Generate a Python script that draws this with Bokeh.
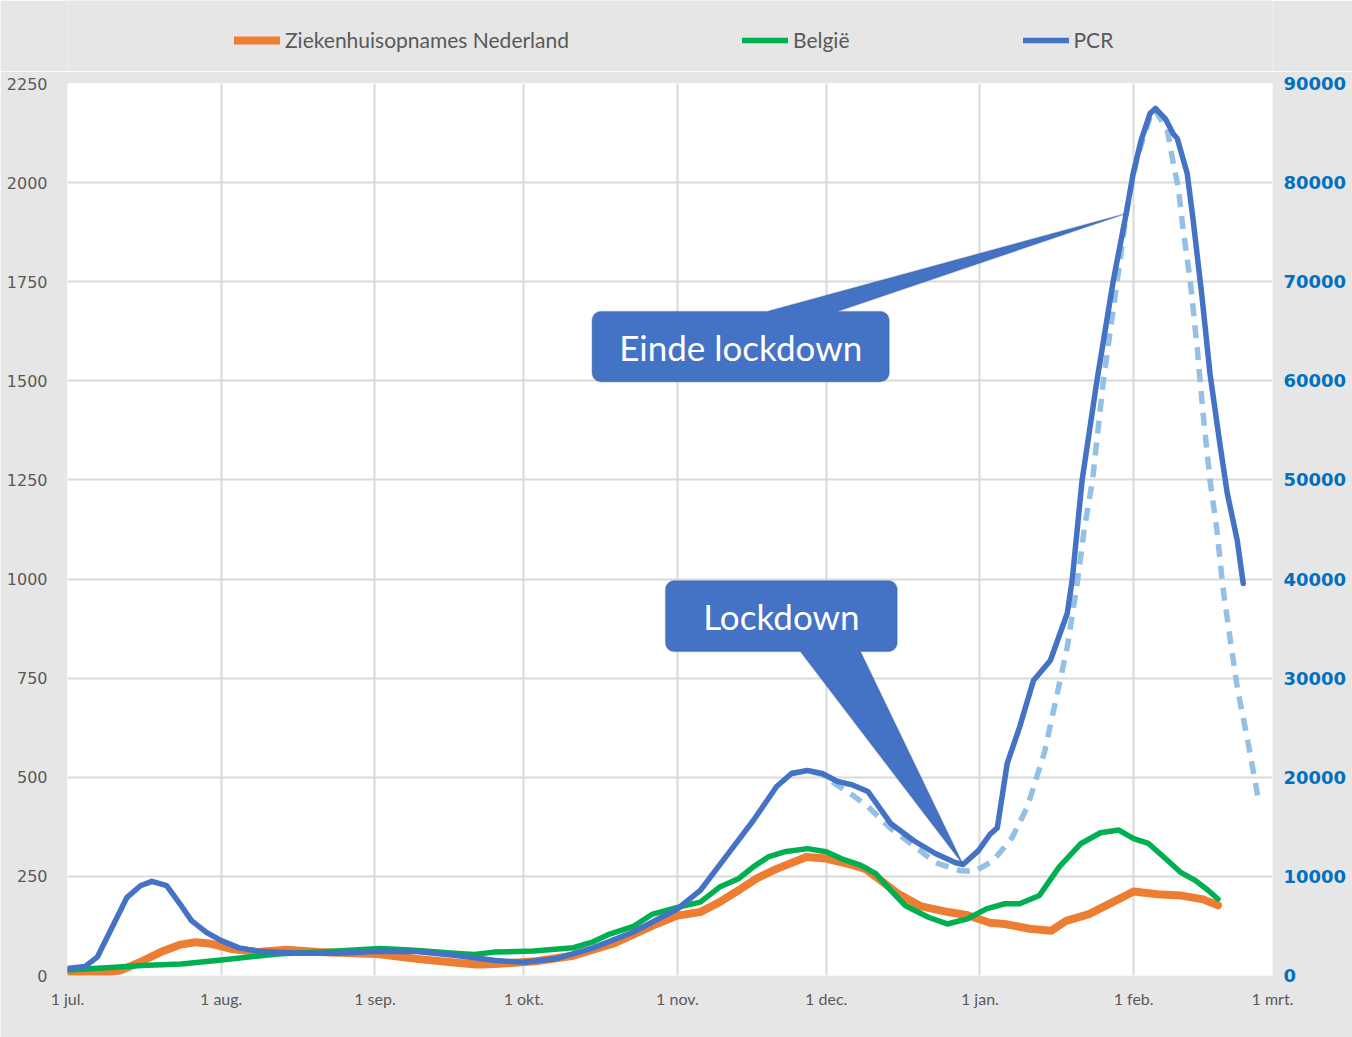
import numpy as np
from bokeh.plotting import figure
from bokeh.layouts import column
from bokeh.models import (Range1d, LinearAxis, FixedTicker, Legend, LegendItem,
                          PolyAnnotation, Label)
from bokeh.embed import file_html
from bokeh.resources import INLINE

# ---------------- data ----------------
# x = days since 1 jul.
month_days = [0, 31, 62, 92, 123, 153, 184, 215, 243]
month_labels = ["1 jul.", "1 aug.", "1 sep.", "1 okt.", "1 nov.",
                "1 dec.", "1 jan.", "1 feb.", "1 mrt."]
left_ticks = [0, 250, 500, 750, 1000, 1250, 1500, 1750, 2000, 2250]
right_ticks = [0, 10000, 20000, 30000, 40000, 50000, 60000, 70000, 80000, 90000]
series_names = ["Ziekenhuisopnames Nederland", "België", "PCR"]

nl_day = [0, 7, 10.7, 14.7, 18.8, 22.8, 25.8, 29, 33, 38.5, 44, 50.6, 62.5, 70.4,
          78.4, 82.5, 86.3, 94.4, 102, 110, 118, 123, 127.6, 131.5, 135.3, 139,
          143, 149, 153, 158, 161, 164.5, 167.5, 172, 177.6, 181.5, 186, 189,
          194, 198.4, 201.4, 206, 210.5, 215, 219.8, 224.4, 229, 232]
nl_val = [5, 5, 13, 34, 59, 78, 84, 80, 67, 59, 65, 59, 54, 42,
          32, 28, 29, 36, 50, 80, 126, 151, 160, 185, 215, 245,
          269, 299, 295, 280, 268, 235, 206, 175, 160, 152, 133, 130,
          118, 113, 138, 155, 183, 212, 205, 202, 192, 177]

be_day = [0, 7, 15, 23, 31, 38.5, 43, 51, 63, 70, 78, 82, 86, 94, 102, 106, 109,
          114, 118, 123, 127.6, 131.5, 135.3, 138.3, 141.3, 144.6, 149.2, 153,
          156, 160, 163, 166, 169, 173.6, 177.4, 181.5, 185.3, 189, 192, 196,
          200, 204.4, 208.3, 212, 215, 218, 221.4, 224.4, 227.4, 230, 232]
be_val = [14, 19, 25, 29, 39, 49, 55, 59, 68, 64, 56, 53, 59, 62, 70, 85, 103,
          123, 155, 172, 185, 223, 244, 274, 299, 312, 320, 312,
          295, 278, 257, 215, 176, 147, 130, 143, 168, 181, 181, 202,
          274, 333, 360, 367, 345, 333, 295, 261, 240, 215, 193]

pcr_day = [0, 3.5, 6, 9, 12, 14.7, 17, 20, 22.7, 25, 28, 31, 34.6, 38.5, 46.5,
           54.5, 62.5, 70.4, 78.4, 86.3, 92, 98.4, 106, 114, 123, 127.6, 133.7,
           138.3, 143, 146, 149.2, 152.2, 155.3, 158.3, 161.4, 166, 170.6, 175,
           179, 180.6, 183.7, 186, 187.5, 189.5, 192, 194.8, 198.2, 201.6,
           202.6, 204.6, 207.6, 210.9, 213.5, 214.9, 216.5, 218.3, 219.4,
           221.4, 223, 223.8, 225.8, 227, 228.8, 230.4, 232.5, 233.9, 235.9,
           237.1]
pcr_val = [700, 900, 1850, 4870, 7890, 9060, 9500, 9060, 7210, 5540, 4360, 3520,
           2790, 2450, 2250, 2250, 2450, 2420, 2010, 1510, 1340, 1680, 2790,
           4360, 6710, 8580, 12600, 15640, 19070, 20380, 20680, 20380, 19570,
           19230, 18570, 15340, 13620, 12310, 11400, 11200, 12600, 14230, 14900,
           21390, 25060, 29760, 31780, 36520, 39860, 49950, 60030, 70130, 76890,
           80920, 84250, 86970, 87480, 86440, 84900, 84450, 80920, 76210, 68410,
           60700, 53270, 48600, 43880, 39550]

pcr2_day = [146, 149.2, 152.2, 155.3, 158.3, 161.4, 166, 170.6, 175, 179.8,
            182.9, 186.7, 190.5, 193.6, 197, 199.6, 201.6, 203.6, 205, 206.7,
            208.9, 211.7, 213.7, 215.7, 218.3, 219.4, 221.8, 223, 224, 225,
            226.4, 227.8, 229, 230.4, 231.8, 233, 234.5, 236, 238, 240]
pcr2_val = [20380, 20680, 20300, 19170, 18200, 17050, 14830, 13120, 11400, 10600,
            10490, 11600, 13920, 17050, 22500, 28450, 33100, 39500, 44900, 49950,
            60030, 70130, 77490, 82540, 86570, 87280, 85260, 81930, 79510, 75170,
            70130, 63370, 56710, 49950, 44900, 39150, 33800, 28760, 23710, 18160]

# ---------------- styles ----------------
W, H = 1352, 1037
LEG_H = 71
ML, MR, MT, MB = 67, 80, 12, 62
X_END, Y_END, Y2_END = 243, 2250, 90000
px_day = (W - ML - MR) / X_END
px_unit = (H - LEG_H - MT - MB) / Y_END
ratio = Y2_END / Y_END

BG = "#e7e6e6"
TXT = "#595959"
C_NL, C_BE, C_PCR, C_PCR2 = "#ed7d31", "#00b050", "#4472c4", "#93c0e4"
style_nl = dict(line_color=C_NL, line_width=8, line_cap="round", line_join="round")
style_be = dict(line_color=C_BE, line_width=5.5, line_cap="round", line_join="round")
style_pcr = dict(line_color=C_PCR, line_width=5.5, line_cap="round", line_join="round")

# ---------------- main chart ----------------
p = figure(width=W, height=H - LEG_H, output_backend="svg", toolbar_location=None,
           x_range=Range1d(0, X_END), y_range=Range1d(0, Y_END),
           min_border_left=ML, min_border_right=MR, min_border_top=MT,
           min_border_bottom=MB, background_fill_color="white",
           border_fill_color=BG, outline_line_color=None)
p.extra_y_ranges = {"pcr": Range1d(0, Y2_END)}

p.xaxis.ticker = FixedTicker(ticks=month_days)
p.xaxis.major_label_overrides = {d: l for d, l in zip(month_days, month_labels)}
p.yaxis.ticker = FixedTicker(ticks=left_ticks)
for ax in (p.xaxis, p.yaxis):
    ax.axis_line_color = None
    ax.major_tick_line_color = None
    ax.minor_tick_line_color = None
    ax.major_label_text_color = TXT
p.xaxis.major_label_text_font = "Lato"
p.xaxis.major_label_text_font_size = "16px"
p.xaxis.major_label_standoff = 7
p.yaxis.major_label_text_font = "DejaVu Sans"
p.yaxis.major_label_text_font_size = "16px"
p.yaxis.major_label_standoff = 14

rax = LinearAxis(y_range_name="pcr", ticker=FixedTicker(ticks=right_ticks))
rax.axis_line_color = None
rax.major_tick_line_color = None
rax.minor_tick_line_color = None
rax.major_label_text_color = "#0070c0"
rax.major_label_text_font = "DejaVu Sans"
rax.major_label_text_font_style = "bold"
rax.major_label_text_font_size = "18px"
rax.major_label_standoff = 5
p.add_layout(rax, "right")

p.xgrid.ticker = FixedTicker(ticks=month_days)
p.ygrid.ticker = FixedTicker(ticks=left_ticks)
for g in (p.xgrid, p.ygrid):
    g.grid_line_color = "#d9d9d9"
    g.grid_line_width = 2

p.line(nl_day, nl_val, **style_nl)
p.line(be_day, be_val, **style_be)
p.line(pcr2_day, pcr2_val, y_range_name="pcr", line_color=C_PCR2,
       line_width=5.5, line_dash="13 9", line_join="round")
p.line(pcr_day, pcr_val, y_range_name="pcr", **style_pcr)


# ---------------- callouts ----------------
def callout_shape(x0, x1, y0, y1, base_a, base_b, tip, side, r_px=9):
    rx, ry = r_px / px_day, r_px / px_unit
    xs, ys = [], []

    def arc(cx, cy, a0, a1):
        for a in np.linspace(np.radians(a0), np.radians(a1), 7):
            xs.append(cx + rx * np.cos(a))
            ys.append(cy + ry * np.sin(a))

    arc(x0 + rx, y1 - ry, 180, 90)
    if side == "top":
        xs.extend([base_a, tip[0], base_b]); ys.extend([y1, tip[1], y1])
    arc(x1 - rx, y1 - ry, 90, 0)
    arc(x1 - rx, y0 + ry, 0, -90)
    if side == "bottom":
        xs.extend([base_b, tip[0], base_a]); ys.extend([y0, tip[1], y0])
    arc(x0 + rx, y0 + ry, -90, -180)
    return xs, ys


def add_callout(text, box, base, tip, side):
    xs, ys = callout_shape(box[0], box[1], box[2], box[3], base[0], base[1], tip, side)
    p.add_layout(PolyAnnotation(xs=xs, ys=ys, fill_color=C_PCR, fill_alpha=1,
                                line_color="#2f528f", line_width=1.5))
    p.add_layout(Label(x=(box[0] + box[1]) / 2, y=(box[2] + box[3]) / 2, text=text,
                       text_align="center", text_baseline="middle",
                       text_color="white", text_font="Lato",
                       text_font_size="35px"))


pcr_day_arr = np.array(pcr_day)
pcr_left = np.array(pcr_val) / ratio
i_min = int(np.argmin(np.where(pcr_day_arr > 160, pcr_left, 1e9)))
tip_lock = (pcr_day[i_min], pcr_left[i_min])
tip_end_day = 213.5
tip_end = (tip_end_day, float(np.interp(tip_end_day, pcr_day_arr, pcr_left)))

add_callout("Einde lockdown", (105.8, 165.7, 1498, 1675), (141.1, 155.2), tip_end, "top")
add_callout("Lockdown", (120.6, 167.3, 817, 996), (147.8, 159.9), tip_lock, "bottom")

# ---------------- legend strip on top ----------------
lg = figure(width=W, height=LEG_H, output_backend="svg", toolbar_location=None,
            x_range=Range1d(0, 1), y_range=Range1d(0, 1),
            min_border=0, background_fill_color=BG, border_fill_color=BG,
            outline_line_color=None)
lg.axis.visible = False
lg.grid.visible = False
# key renderers sit outside the visible range: only their legend swatches show
k_nl = lg.line([-5, -4], [-5, -5], **style_nl)
k_be = lg.line([-5, -4], [-5, -5], **style_be)
k_pcr = lg.line([-5, -4], [-5, -5], **style_pcr)
legend = Legend(items=[LegendItem(label=n, renderers=[r]) for n, r in
                       zip(series_names, [k_nl, k_be, k_pcr])],
                orientation="horizontal", location=(167, 19),
                background_fill_alpha=0, border_line_color=None,
                glyph_width=46, glyph_height=20, label_standoff=5, spacing=173,
                padding=0, margin=0, label_text_font="Lato",
                label_text_font_size="21px", label_text_color=TXT)
lg.add_layout(legend)

layout = column(lg, p, spacing=0)
open("out.html", "w").write(file_html(layout, INLINE))
